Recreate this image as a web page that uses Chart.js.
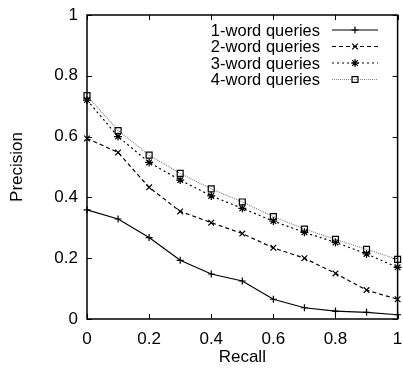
<!DOCTYPE html>
<html>
<head>
<meta charset="utf-8">
<style>
  html, body { margin: 0; padding: 0; background: #fff; }
  #wrap { width: 403px; height: 371px; }
</style>
<script src="https://cdn.jsdelivr.net/npm/chart.js@4.4.1/dist/chart.umd.min.js"></script>
</head>
<body>
<div id="wrap"><canvas id="pr"></canvas></div>
<script>
// data
const recall = [0, 0.1, 0.2, 0.3, 0.4, 0.5, 0.6, 0.7, 0.8, 0.9, 1];
const oneWord   = [0.359, 0.329, 0.268, 0.193, 0.148, 0.125, 0.065, 0.037, 0.026, 0.022, 0.014];
const twoWord   = [0.594, 0.548, 0.433, 0.354, 0.317, 0.281, 0.234, 0.200, 0.150, 0.095, 0.065];
const threeWord = [0.720, 0.600, 0.515, 0.457, 0.405, 0.364, 0.322, 0.285, 0.252, 0.214, 0.170];
const fourWord  = [0.735, 0.620, 0.539, 0.479, 0.428, 0.385, 0.337, 0.296, 0.262, 0.229, 0.196];
const seriesNames = ['1-word queries', '2-word queries', '3-word queries', '4-word queries'];
const xTicks = [0, 0.2, 0.4, 0.6, 0.8, 1];
const yTicks = [0, 0.2, 0.4, 0.6, 0.8, 1];

const FONT = '"Liberation Sans", Arial, Helvetica, sans-serif';

const toPts = arr => arr.map((v, i) => ({ x: recall[i], y: v }));

const styles = [
  { color: '#000', dash: [],     point: 'cross',    radius: 3.5 },
  { color: '#000', dash: [4, 3], point: 'crossRot', radius: 4 },
  { color: '#000', dash: [2, 3], point: 'star',     radius: 4 },
  { color: '#888', dash: [1, 1], point: 'rect',     radius: 4.2 }
];

const datasets = [oneWord, twoWord, threeWord, fourWord].map((vals, i) => ({
  label: seriesNames[i],
  data: toPts(vals),
  borderColor: styles[i].color,
  borderWidth: 1.2,
  borderDash: styles[i].dash,
  pointStyle: styles[i].point,
  pointRadius: styles[i].radius,
  pointBorderColor: '#000',
  pointBackgroundColor: 'rgba(0,0,0,0)',
  pointBorderWidth: 1.2,
  tension: 0,
  fill: false,
  clip: false
}));

// gnuplot-like frame with inward ticks on all four sides
const frame = {
  id: 'frame',
  beforeDatasetsDraw(chart) {
    const { ctx, chartArea: a, scales: { x, y } } = chart;
    ctx.save();
    ctx.strokeStyle = '#000';
    ctx.lineWidth = 1;
    ctx.beginPath();
    xTicks.forEach(v => {
      const px = Math.round(x.getPixelForValue(v)) + 0.5;
      ctx.moveTo(px, a.bottom); ctx.lineTo(px, a.bottom - 5);
      ctx.moveTo(px, a.top); ctx.lineTo(px, a.top + 5);
    });
    yTicks.forEach(v => {
      const py = Math.round(y.getPixelForValue(v)) + 0.5;
      ctx.moveTo(a.left, py); ctx.lineTo(a.left + 5, py);
      ctx.moveTo(a.right, py); ctx.lineTo(a.right - 5, py);
    });
    ctx.stroke();
    ctx.lineWidth = 1.5;
    ctx.strokeRect(a.left, a.top, a.width, a.height);
    ctx.restore();
  }
};

// key in the top right, text right-aligned with the sample to its right
const key = {
  id: 'key',
  afterDraw(chart) {
    const { ctx } = chart;
    const rows = [30, 46.5, 63, 79.5];
    ctx.save();
    ctx.font = '16.5px ' + FONT;
    ctx.textAlign = 'right';
    ctx.textBaseline = 'middle';
    chart.data.datasets.forEach((ds, i) => {
      const yy = rows[i];
      ctx.fillStyle = '#000';
      ctx.fillText(ds.label, 320, yy + 1);
      ctx.strokeStyle = ds.borderColor;
      ctx.lineWidth = ds.borderWidth;
      ctx.setLineDash(ds.borderDash);
      ctx.beginPath();
      ctx.moveTo(332, yy); ctx.lineTo(378, yy);
      ctx.stroke();
      ctx.setLineDash([]);
      ctx.strokeStyle = ds.pointBorderColor;
      ctx.fillStyle = 'rgba(0,0,0,0)';
      ctx.lineWidth = ds.pointBorderWidth;
      Chart.helpers.drawPoint(ctx, { pointStyle: ds.pointStyle, radius: ds.pointRadius, rotation: 0, borderWidth: ds.pointBorderWidth }, 355, yy);
    });
    ctx.restore();
  }
};

new Chart(document.getElementById('pr'), {
  type: 'line',
  data: { datasets },
  options: {
    responsive: true,
    maintainAspectRatio: false,
    animation: false,
    layout: { padding: { top: 15, right: 4, left: 0, bottom: 0 } },
    plugins: { legend: { display: false }, tooltip: { enabled: false } },
    scales: {
      x: {
        type: 'linear', min: 0, max: 1,
        afterBuildTicks: s => { s.ticks = xTicks.map(v => ({ value: v })); },
        afterFit: s => { s.height = 52; s.paddingLeft = 0; s.paddingRight = 0; },
        grid: { display: false, drawTicks: false },
        border: { display: false },
        ticks: { padding: 10, color: '#000', font: { family: FONT, size: 17 }, callback: v => String(v) },
        title: { display: true, text: 'Recall', color: '#000', font: { family: FONT, size: 17 }, padding: { top: 0, bottom: 3 } }
      },
      y: {
        type: 'linear', min: 0, max: 1,
        afterBuildTicks: s => { s.ticks = yTicks.map(v => ({ value: v })); },
        afterFit: s => { s.width = 87; s.paddingTop = 0; s.paddingBottom = 0; },
        grid: { display: false, drawTicks: false },
        border: { display: false },
        ticks: { padding: 9, color: '#000', font: { family: FONT, size: 17 }, callback: v => String(v) },
        title: { display: true, text: 'Precision', color: '#000', font: { family: FONT, size: 17 }, padding: { top: 7, bottom: 0 } }
      }
    }
  },
  plugins: [frame, key]
});
</script>
</body>
</html>
